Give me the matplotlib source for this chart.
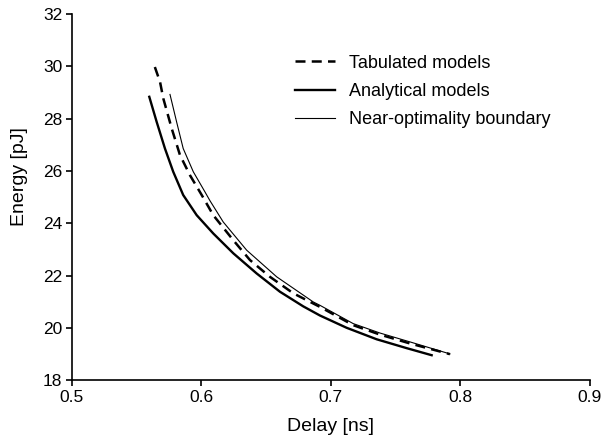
import matplotlib.pyplot as plt

plt.rcParams['font.family'] = ['Liberation Sans', 'DejaVu Sans']

# values
tab_delay = [0.564, 0.568, 0.5705, 0.577, 0.5834, 0.5911, 0.6002, 0.6091, 0.6246,
             0.6375, 0.6529, 0.6709, 0.6863, 0.6915, 0.7172, 0.7378, 0.761, 0.7919]
tab_energy = [29.98, 29.41, 28.78, 27.63, 26.61, 25.84, 25.08, 24.31, 23.35,
              22.59, 21.95, 21.32, 20.93, 20.80, 20.10, 19.74, 19.40, 18.99]

ana_delay = [0.5597, 0.5654, 0.5718, 0.5782, 0.5859, 0.5963, 0.6091, 0.6246,
             0.6426, 0.6606, 0.6786, 0.6915, 0.7121, 0.7353, 0.7585, 0.7778]
ana_energy = [28.84, 27.88, 26.86, 25.97, 25.08, 24.31, 23.61, 22.85,
              22.08, 21.38, 20.82, 20.47, 20.00, 19.56, 19.22, 18.95]

near_delay = [0.5757, 0.5808, 0.5859, 0.5937, 0.6027, 0.6066, 0.6168, 0.6349,
              0.6581, 0.6863, 0.6915, 0.7172, 0.7378, 0.761, 0.7919]
near_energy = [28.93, 27.88, 26.86, 25.97, 25.20, 24.86, 24.05, 22.97,
               21.95, 20.99, 20.86, 20.16, 19.80, 19.46, 19.0]

fig = plt.figure(figsize=(6.05, 4.45), dpi=100)
ax = fig.add_axes([0.119, 0.146, 0.856, 0.822])

ax.plot(tab_delay, tab_energy, color='black', lw=1.8, dashes=(4, 2.5), label='Tabulated models')
ax.plot(ana_delay, ana_energy, color='black', lw=1.7, label='Analytical models')
ax.plot(near_delay, near_energy, color='black', lw=0.8, label='Near-optimality boundary')

ax.set_xlim(0.5, 0.9)
ax.set_ylim(18, 32)
ax.set_xticks([0.5, 0.6, 0.7, 0.8, 0.9])
ax.set_yticks([18, 20, 22, 24, 26, 28, 30, 32])
ax.spines['top'].set_visible(False)
ax.spines['right'].set_visible(False)
ax.spines['left'].set_linewidth(1.2)
ax.spines['bottom'].set_linewidth(1.2)
ax.tick_params(direction='out', length=4, labelsize=12.5, width=1.2, pad=3)
ax.set_xlabel('Delay [ns]', fontsize=14)
ax.set_ylabel('Energy [pJ]', fontsize=14)
ax.xaxis.set_label_coords(0.5, -0.105)
ax.yaxis.set_label_coords(-0.084, 0.555)

ax.legend(loc='upper left', bbox_to_anchor=(0.4876, 0.877), bbox_transform=fig.transFigure,
          frameon=False, fontsize=13, borderpad=0, borderaxespad=0,
          handlelength=2.2, handletextpad=0.8, labelspacing=0.62)

fig.savefig('out.png', dpi=100)
